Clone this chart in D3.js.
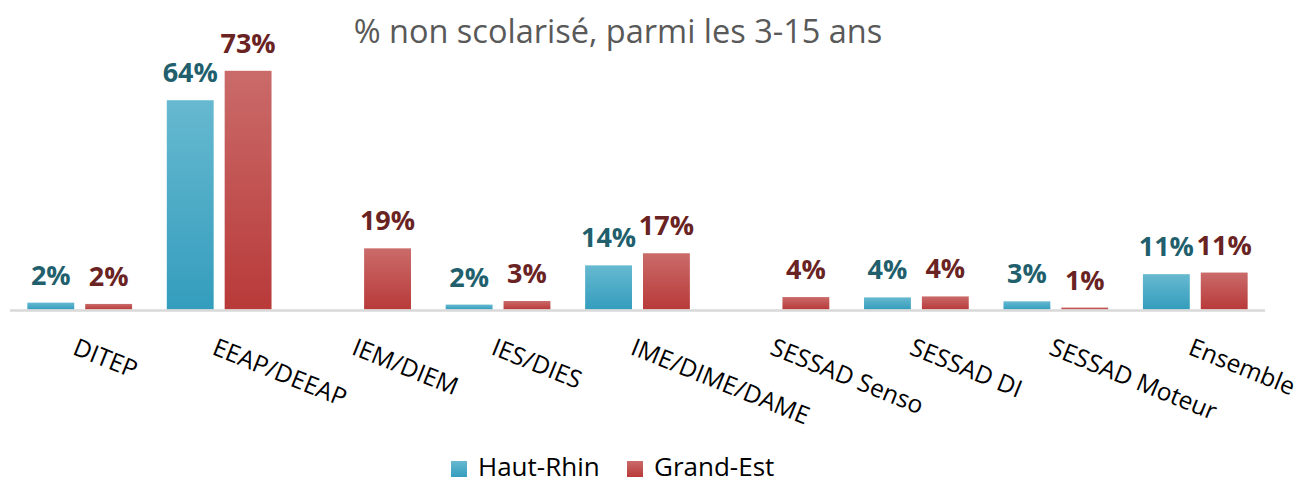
<!DOCTYPE html>
<html>
<head>
<meta charset="utf-8">
<script src="https://cdn.jsdelivr.net/npm/d3@7"></script>
<style>
  body { margin: 0; background: #fff; }
  svg text { font-family: "Open Sans", "DejaVu Sans", sans-serif; }
</style>
</head>
<body>
<div id="chart"></div>
<script>
// data
const categories = ["DITEP", "EEAP/DEEAP", "IEM/DIEM", "IES/DIES", "IME/DIME/DAME",
                    "SESSAD Senso", "SESSAD DI", "SESSAD Moteur", "Ensemble"];
const seriesNames = ["Haut-Rhin", "Grand-Est"];
const hautRhin = [2.1, 64, null, 1.5, 13.5, null, 3.7, 2.5, 10.8];
const grandEst = [1.7, 73, 18.7, 2.6, 17.2, 3.8, 4.0, 0.6, 11.3];
const title = "% non scolarisé, parmi les 3-15 ans";

const width = 1301, height = 484;
const baseY = 309.5;

const svg = d3.select("#chart").append("svg")
    .attr("width", width)
    .attr("height", height);

// gradients, lighter at the top
const defs = svg.append("defs");
const grads = [
    { id: "gBlue", top: "#66b9d0", bottom: "#349dbd", label: "#225f6d" },
    { id: "gRed", top: "#ca6b6a", bottom: "#b83a39", label: "#6a2323" }
];
grads.forEach(g => {
    const lg = defs.append("linearGradient").attr("id", g.id)
        .attr("x1", 0).attr("y1", 0).attr("x2", 0).attr("y2", 1);
    lg.append("stop").attr("offset", "0%").attr("stop-color", g.top);
    lg.append("stop").attr("offset", "100%").attr("stop-color", g.bottom);
});

const x0 = d3.scaleBand()
    .domain(categories)
    .range([10, 1265]);

const x1 = d3.scaleBand()
    .domain(seriesNames)
    .range([0, x0.bandwidth()])
    .paddingInner(0.19)
    .paddingOuter(0.3);

const y = d3.scaleLinear()
    .domain([0, 80])
    .range([baseY, baseY - 80 * 3.27]);

// title
svg.append("text")
    .attr("x", 618)
    .attr("y", 43)
    .attr("text-anchor", "middle")
    .attr("fill", "#595959")
    .style("font-size", "32.5px")
    .text(title);

const rows = categories.map((c, i) => ({
    cat: c,
    vals: [hautRhin[i], grandEst[i]]
}));

const groups = svg.selectAll(".cat")
    .data(rows)
    .enter()
    .append("g")
    .attr("class", "cat")
    .attr("transform", d => `translate(${x0(d.cat)},0)`);

const bars = groups.selectAll(".b")
    .data(d => d.vals.map((v, j) => ({ v: v, s: seriesNames[j], j: j })).filter(e => e.v != null))
    .enter()
    .append("g");

bars.append("rect")
    .attr("x", d => x1(d.s))
    .attr("width", x1.bandwidth())
    .attr("y", d => y(d.v))
    .attr("height", d => y(0) - y(d.v))
    .attr("fill", d => `url(#${grads[d.j].id})`);

bars.append("text")
    .attr("x", d => x1(d.s) + x1.bandwidth() / 2)
    .attr("y", d => y(d.v) - 18)
    .attr("text-anchor", "middle")
    .attr("fill", d => grads[d.j].label)
    .style("font-size", "27px")
    .style("font-weight", "bold")
    .text(d => Math.round(d.v) + "%");

// baseline
svg.append("line")
    .attr("x1", x0.range()[0]).attr("x2", x0.range()[1])
    .attr("y1", baseY + 1).attr("y2", baseY + 1)
    .attr("stroke", "#d9d9d9")
    .attr("stroke-width", 2.5);

// rotated category labels
svg.selectAll(".xl")
    .data(categories)
    .enter()
    .append("text")
    .attr("class", "xl")
    .attr("transform", d => `translate(${x0(d) + x0.bandwidth() / 2 - 1},336) rotate(22)`)
    .attr("dy", "0.78em")
    .attr("fill", "#000")
    .style("font-size", "24.5px")
    .text(d => d);

// legend
const legend = svg.append("g").attr("transform", "translate(451,0)");
const legendX = [0, 176];
seriesNames.forEach((s, i) => {
    const g = legend.append("g").attr("transform", `translate(${legendX[i]},0)`);
    g.append("rect")
        .attr("x", 0).attr("y", 461)
        .attr("width", 16).attr("height", 16)
        .attr("fill", `url(#${grads[i].id})`);
    g.append("text")
        .attr("x", 27).attr("y", 476)
        .attr("fill", "#000")
        .style("font-size", "26px")
        .text(s);
});
</script>
</body>
</html>
